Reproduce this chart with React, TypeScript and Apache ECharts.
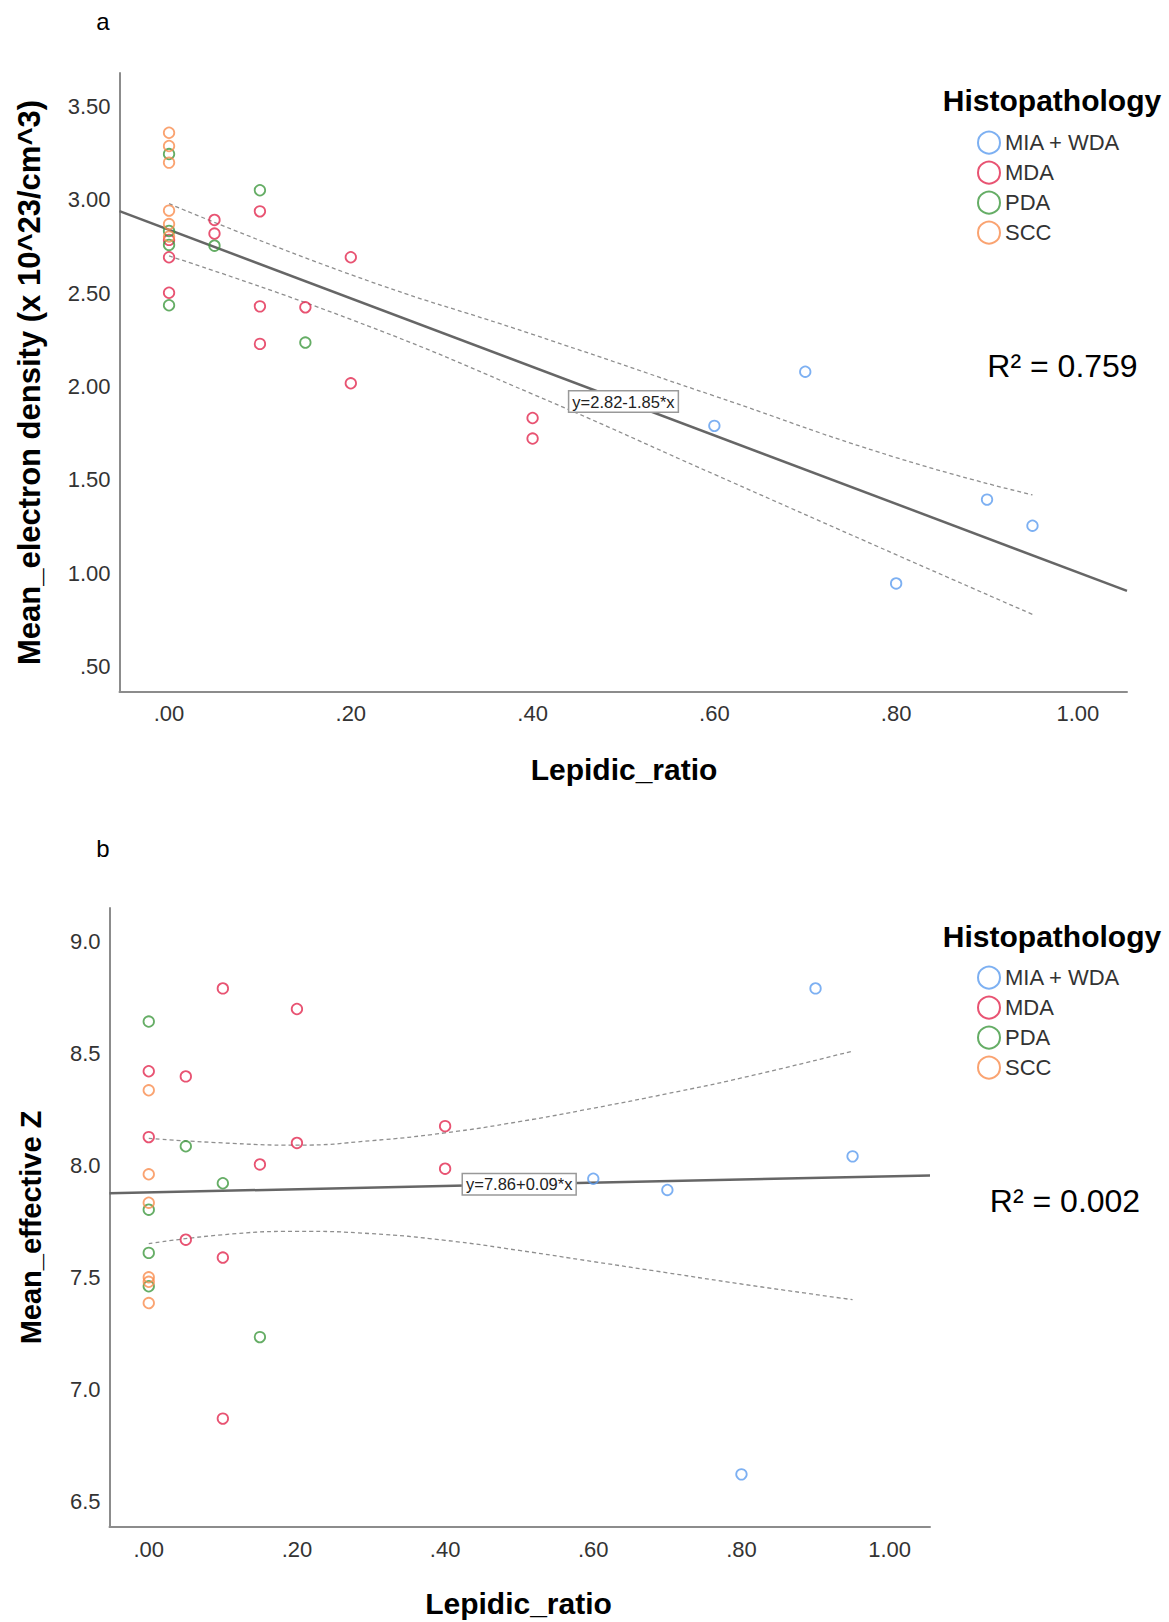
import React, { useEffect, useRef } from "react";
import * as echarts from "echarts";

const FONT = "'Liberation Sans', Arial, sans-serif";

const groups = ["MIA + WDA", "MDA", "PDA", "SCC"];
const groupColors = ["#5c9cef", "#e2284f", "#3f983f", "#f98c4d"];

// ---- Panel a: Mean electron density vs Lepidic ratio ----
const aMiaX = [0.6, 0.7, 0.8, 0.9, 0.95];
const aMiaY = [1.79, 2.08, 0.946, 1.395, 1.255];
const aMdaX = [0, 0, 0, 0.05, 0.05, 0.1, 0.1, 0.1, 0.15, 0.2, 0.2, 0.4, 0.4];
const aMdaY = [2.786, 2.693, 2.503, 2.893, 2.82, 2.939, 2.43, 2.229, 2.425, 2.693, 2.018, 1.832, 1.722];
const aPdaX = [0, 0, 0, 0, 0.05, 0.1, 0.15];
const aPdaY = [3.246, 2.834, 2.759, 2.436, 2.755, 3.052, 2.236];
const aSccX = [0, 0, 0, 0, 0, 0];
const aSccY = [3.36, 3.289, 3.2, 2.943, 2.871, 2.804];

const aFitX = [-0.0545, 1.054];
const aFitY = [2.94, 0.906];
const aUpperX = [0, 0.2, 0.4, 0.6, 0.8, 0.95];
const aUpperY = [2.98, 2.6, 2.28, 1.95, 1.62, 1.42];
const aLowerX = [0, 0.2, 0.4, 0.6, 0.8, 0.95];
const aLowerY = [2.7, 2.36, 1.96, 1.53, 1.1, 0.78];
const aEqPoint = [0.5, 1.92];
const aEquation = "y=2.82-1.85*x";
const aR2 = "R² = 0.759";

const aXTicks = [0, 0.2, 0.4, 0.6, 0.8, 1.0];
const aYTicks = [0.5, 1.0, 1.5, 2.0, 2.5, 3.0, 3.5];

// ---- Panel b: Mean effective Z vs Lepidic ratio ----
const bMiaX = [0.6, 0.7, 0.8, 0.9, 0.95];
const bMiaY = [7.94, 7.89, 6.62, 8.79, 8.04];
const bMdaX = [0, 0, 0.05, 0.05, 0.1, 0.1, 0.1, 0.15, 0.2, 0.2, 0.4, 0.4];
const bMdaY = [8.42, 8.126, 8.397, 7.668, 8.79, 7.588, 6.869, 8.004, 8.698, 8.1, 8.175, 7.985];
const bPdaX = [0, 0, 0, 0, 0.05, 0.1, 0.15];
const bPdaY = [8.642, 7.802, 7.609, 7.46, 8.085, 7.92, 7.233];
const bSccX = [0, 0, 0, 0, 0, 0];
const bSccY = [8.335, 7.96, 7.833, 7.5, 7.48, 7.385];

const bFitX = [-0.053, 1.0545];
const bFitY = [7.875, 7.955];
const bUpperX = [0, 0.1, 0.2, 0.3, 0.4, 0.5, 0.6, 0.7, 0.8, 0.95];
const bUpperY = [8.12, 8.1, 8.09, 8.11, 8.145, 8.195, 8.255, 8.32, 8.39, 8.51];
const bLowerX = [0, 0.1, 0.2, 0.3, 0.4, 0.5, 0.6, 0.7, 0.8, 0.95];
const bLowerY = [7.65, 7.69, 7.705, 7.695, 7.665, 7.62, 7.57, 7.52, 7.47, 7.4];
const bEqPoint = [0.5, 7.915];
const bEquation = "y=7.86+0.09*x";
const bR2 = "R² = 0.002";

const bXTicks = [0, 0.2, 0.4, 0.6, 0.8, 1.0];
const bYTicks = [6.5, 7.0, 7.5, 8.0, 8.5, 9.0];

const zip = (xs: number[], ys: number[]) => xs.map((x, i) => [x, ys[i]]);

const fmt2 = (v: number) => {
  const s = (Math.round(v * 100) / 100).toFixed(2);
  return s.startsWith("0") ? s.slice(1) : s;
};
const fmt1 = (v: number) => (Math.round(v * 10) / 10).toFixed(1);

const axisLineStyle = { color: "#8c8c8c", width: 2 };

export default function App() {
  const ref = useRef<HTMLDivElement>(null);

  useEffect(() => {
    if (!ref.current) return;
    const chart = echarts.init(ref.current, undefined, { renderer: "svg" });

    const aGroups = [zip(aMiaX, aMiaY), zip(aMdaX, aMdaY), zip(aPdaX, aPdaY), zip(aSccX, aSccY)];
    const bGroups = [zip(bMiaX, bMiaY), zip(bMdaX, bMdaY), zip(bPdaX, bPdaY), zip(bSccX, bSccY)];

    const scatter = (data: number[][], gi: number, idx: number) => ({
      type: "scatter",
      name: groups[gi],
      xAxisIndex: idx,
      yAxisIndex: idx,
      data,
      symbol: "circle",
      symbolSize: 10.5,
      z: 5,
      itemStyle: { color: "rgba(255,255,255,0)", borderColor: groupColors[gi], borderWidth: 1.8 },
    });

    const fitLine = (xs: number[], ys: number[], idx: number, eq: number[], eqText: string) => ({
      type: "line",
      xAxisIndex: idx,
      yAxisIndex: idx,
      data: zip(xs, ys),
      showSymbol: false,
      silent: true,
      z: 3,
      lineStyle: { color: "#666666", width: 2.5 },
      markPoint: {
        symbol: "rect",
        symbolSize: 0,
        silent: true,
        data: [
          {
            coord: eq,
            label: {
              show: true,
              position: "inside",
              formatter: eqText,
              fontSize: 16.5,
              fontFamily: FONT,
              color: "#222",
              backgroundColor: "#ffffff",
              borderColor: "#999999",
              borderWidth: 1.5,
              padding: [2, 3, 1, 3],
            },
          },
        ],
      },
    });

    const band = (xs: number[], ys: number[], idx: number) => ({
      type: "line",
      xAxisIndex: idx,
      yAxisIndex: idx,
      data: zip(xs, ys),
      smooth: true,
      showSymbol: false,
      silent: true,
      z: 2,
      lineStyle: { color: "#8f8f8f", width: 1.3, type: [4, 3] },
    });

    const legendData = groups.map((g, i) => ({
      name: g,
      icon: "circle",
      itemStyle: { color: "rgba(255,255,255,0)", borderColor: groupColors[i], borderWidth: 2 },
    }));

    const legend = (top: number) => ({
      orient: "vertical",
      left: 977,
      top,
      padding: 0,
      itemWidth: 22,
      itemHeight: 22,
      itemGap: 6,
      selectedMode: false,
      textStyle: { fontSize: 22, color: "#333", fontFamily: FONT },
      data: legendData,
    });

    const xAxis = (idx: number, min: number, max: number, ticks: number[]) => ({
      type: "value",
      gridIndex: idx,
      min,
      max,
      axisLine: { show: true, onZero: false, lineStyle: axisLineStyle },
      axisTick: { show: false },
      splitLine: { show: false },
      axisLabel: {
        customValues: ticks,
        formatter: (v: number) => fmt2(v),
        fontSize: 22,
        color: "#333",
        fontFamily: FONT,
        margin: 11,
      },
    });

    const yAxis = (idx: number, min: number, max: number, ticks: number[], f: (v: number) => string) => ({
      type: "value",
      gridIndex: idx,
      min,
      max,
      axisLine: { show: true, onZero: false, lineStyle: axisLineStyle },
      axisTick: { show: false },
      splitLine: { show: false },
      axisLabel: {
        customValues: ticks,
        formatter: (v: number) => f(v),
        fontSize: 22,
        color: "#333",
        fontFamily: FONT,
        margin: 9,
      },
    });

    const txt = (x: number, y: number, text: string, fontSize: number, bold = false, rotation = 0, color = "#000") => ({
      type: "text",
      x,
      y,
      rotation,
      silent: true,
      style: {
        text,
        fontSize,
        fontWeight: bold ? "bold" : "normal",
        fontFamily: FONT,
        fill: color,
        align: "center",
        verticalAlign: "middle",
      },
    });

    chart.setOption({
      animation: false,
      backgroundColor: "#ffffff",
      grid: [
        { left: 119.5, top: 73, width: 1007.5, height: 618.7 },
        { left: 109.5, top: 908, width: 820.5, height: 619 },
      ],
      xAxis: [xAxis(0, -0.0545, 1.054, aXTicks), xAxis(1, -0.053, 1.0545, bXTicks)],
      yAxis: [yAxis(0, 0.366, 3.68, aYTicks, fmt2), yAxis(1, 6.385, 9.149, bYTicks, fmt1)],
      legend: [legend(130.7), legend(965.6)],
      graphic: [
        txt(103, 21, "a", 24),
        txt(103, 848, "b", 24),
        txt(29, 382.5, "Mean_electron density (x 10^23/cm^3)", 31, true, Math.PI / 2),
        txt(31, 1227.5, "Mean_effective Z", 29, true, Math.PI / 2),
        txt(624, 769, "Lepidic_ratio", 30, true),
        txt(518.5, 1603, "Lepidic_ratio", 30, true),
        txt(1052, 100, "Histopathology", 30, true),
        txt(1052, 936, "Histopathology", 30, true),
        txt(1062.5, 366, aR2, 32),
        txt(1065, 1201, bR2, 32),
      ],
      series: [
        band(aUpperX, aUpperY, 0),
        band(aLowerX, aLowerY, 0),
        fitLine(aFitX, aFitY, 0, aEqPoint, aEquation),
        ...aGroups.map((d, i) => scatter(d, i, 0)),
        band(bUpperX, bUpperY, 1),
        band(bLowerX, bLowerY, 1),
        fitLine(bFitX, bFitY, 1, bEqPoint, bEquation),
        ...bGroups.map((d, i) => scatter(d, i, 1)),
      ],
    });

    return () => chart.dispose();
  }, []);

  return (
    <div
      ref={ref}
      style={{ position: "absolute", left: 0, top: 0, width: 1169, height: 1622, background: "#fff" }}
    />
  );
}
